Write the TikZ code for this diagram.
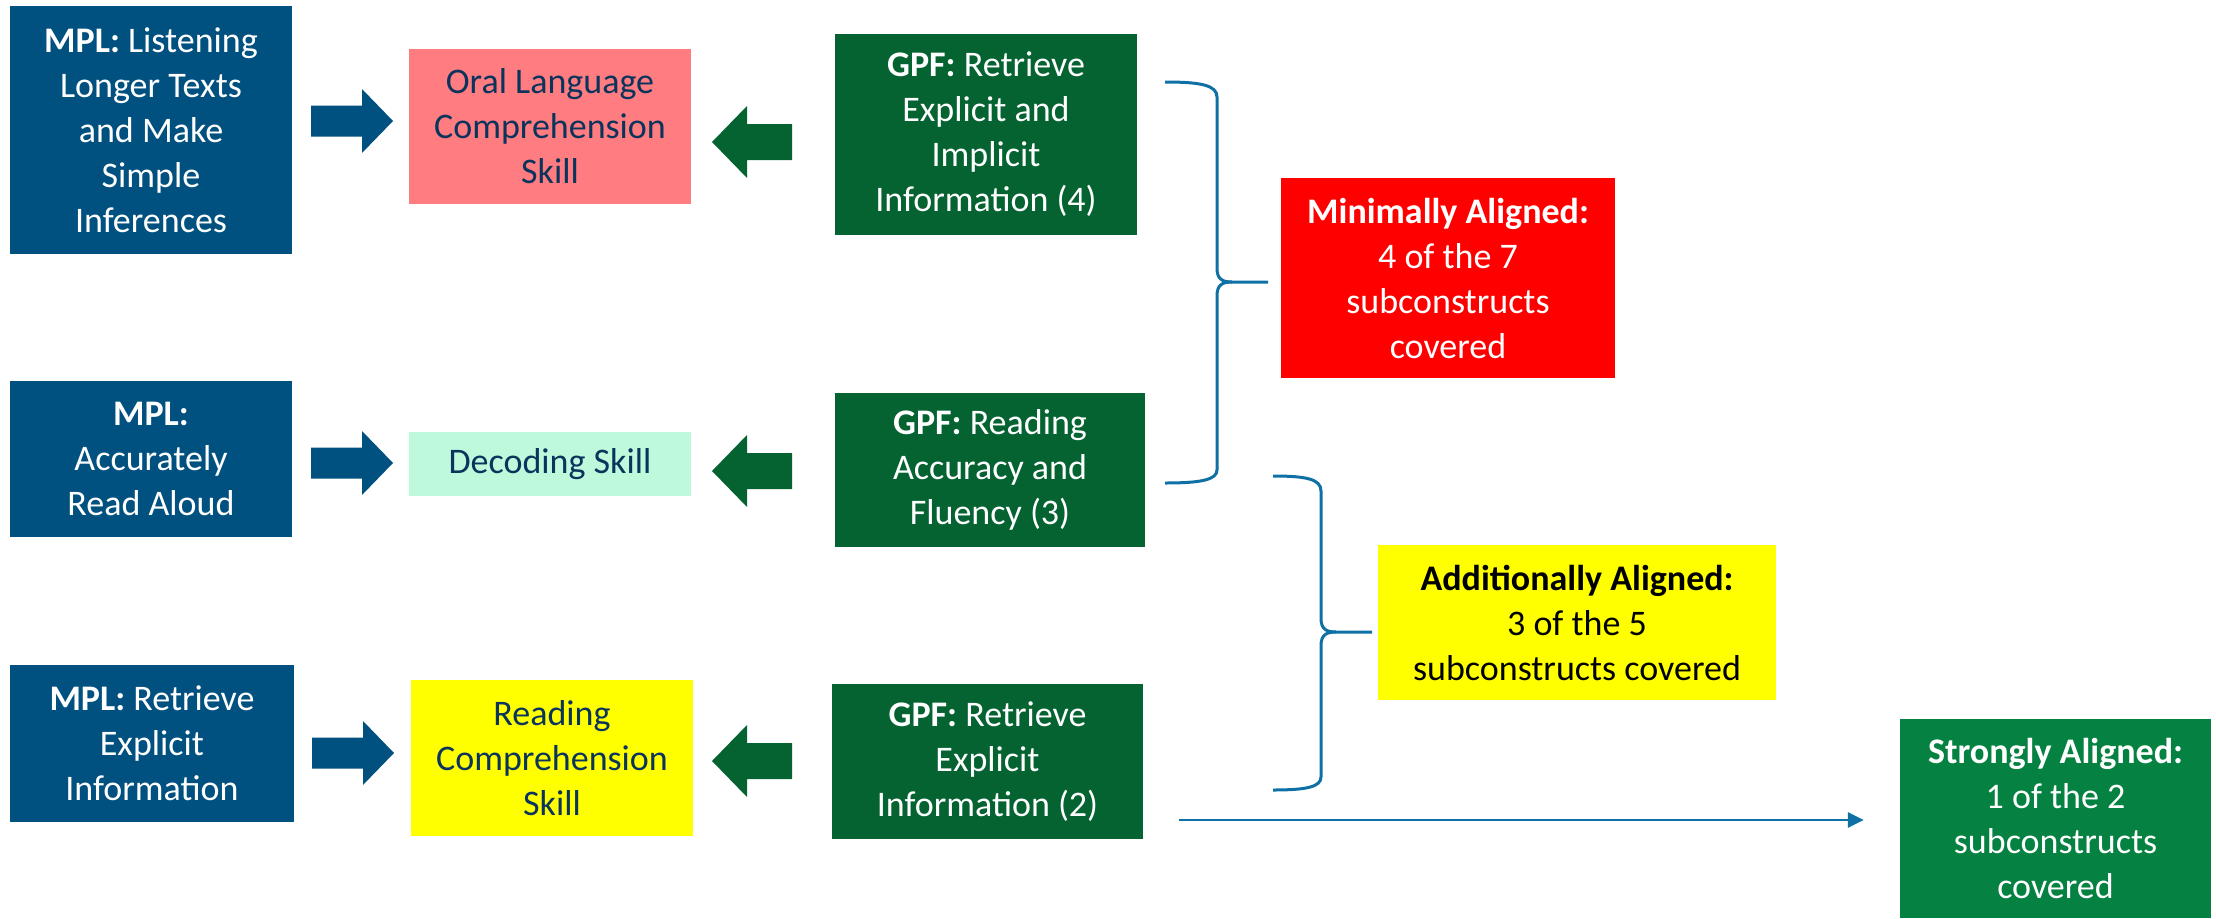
\documentclass[tikz,border=0pt]{standalone}
\usepackage{fontspec}
\setmainfont{Carlito}
\usetikzlibrary{arrows.meta}

\definecolor{mplblue}{RGB}{0,80,128}
\definecolor{gpfgreen}{RGB}{5,99,50}
\definecolor{oralpink}{RGB}{255,124,128}
\definecolor{decmint}{RGB}{190,249,219}
\definecolor{skillyellow}{RGB}{255,255,0}
\definecolor{skilltext}{RGB}{10,52,92}
\definecolor{minred}{RGB}{255,0,0}
\definecolor{strongreen}{RGB}{5,130,65}
\definecolor{bracketblue}{RGB}{14,112,164}

\tikzset{
  box/.style={rectangle, inner sep=0pt, align=center,
    font=\fontsize{36}{45}\selectfont},
  mplbox/.style={box, fill=mplblue, text=white},
  gpfbox/.style={box, fill=gpfgreen, text=white},
  skillbox/.style={box, text=skilltext},
  % block arrow pointing right, drawn about its centre
  rightblock/.pic={\fill[mplblue] (-41,-15.5) -- (10,-15.5) -- (10,-32)
    -- (41,0) -- (10,32) -- (10,15.5) -- (-41,15.5) -- cycle;},
  % block arrow pointing left, drawn about its centre
  leftblock/.pic={\fill[gpfgreen] (40,-18) -- (-5,-18) -- (-5,-36)
    -- (-40,0) -- (-5,36) -- (-5,18) -- (40,18) -- cycle;},
  bracket/.style={draw=bracketblue, line width=3pt, line join=round},
  link/.style={draw=bracketblue, line width=2.7pt,
    -{Triangle[length=16pt,width=15pt]}},
}

\begin{document}
\begin{tikzpicture}[x=1pt,y=-1pt]
\useasboundingbox (0,0) rectangle (2216,918);

% MPL column
\node[mplbox, minimum width=282pt, minimum height=248pt] (mpl1) at (151,130)
  {\textbf{MPL:} Listening\\Longer Texts\\and Make\\Simple\\Inferences};
\node[mplbox, minimum width=282pt, minimum height=156pt] (mpl2) at (151,459)
  {\textbf{MPL:}\\Accurately\\Read Aloud};
\node[mplbox, minimum width=284pt, minimum height=157pt] (mpl3) at (152,743.5)
  {\textbf{MPL:} Retrieve\\Explicit\\Information};

% skill column
\node[skillbox, fill=oralpink, minimum width=282pt, minimum height=155pt] (oral) at (550,126.5)
  {Oral Language\\Comprehension\\Skill};
\node[skillbox, fill=decmint, minimum width=282pt, minimum height=64pt] (decoding) at (550,464)
  {Decoding Skill};
\node[skillbox, fill=skillyellow, minimum width=282pt, minimum height=156pt] (reading) at (552,758)
  {Reading\\Comprehension\\Skill};

% GPF column
\node[gpfbox, minimum width=302pt, minimum height=201pt] (gpf1) at (986,134.5)
  {\textbf{GPF:} Retrieve\\Explicit and\\Implicit\\Information (4)};
\node[gpfbox, minimum width=310pt, minimum height=154pt] (gpf2) at (990,470)
  {\textbf{GPF:} Reading\\Accuracy and\\Fluency (3)};
\node[gpfbox, minimum width=311pt, minimum height=155pt] (gpf3) at (987.5,761.5)
  {\textbf{GPF:} Retrieve\\Explicit\\Information (2)};

% block arrows between the columns
\pic (ra1) at (352,121) {rightblock};
\pic (ra2) at (352,463) {rightblock};
\pic (ra3) at (353,753) {rightblock};
\pic (la1) at (752,142) {leftblock};
\pic (la2) at (752,471) {leftblock};
\pic (la3) at (752,761) {leftblock};

% alignment results
\node[box, fill=minred, text=white, minimum width=334pt, minimum height=200pt] (minimal) at (1448,278)
  {\textbf{Minimally Aligned:}\\4 of the 7\\subconstructs\\covered};
\node[box, fill=skillyellow, text=black, minimum width=398pt, minimum height=155pt] (additional) at (1577,622.5)
  {\textbf{Additionally Aligned:}\\3 of the 5\\subconstructs covered};
\node[box, fill=strongreen, text=white, minimum width=311pt, minimum height=199pt] (strong) at (2055.5,818.5)
  {\textbf{Strongly Aligned:}\\1 of the 2\\subconstructs\\covered};

% brace grouping GPF 1-2 into the minimal result
\coordinate (b1t) at (1165,82);
\coordinate (b1b) at (1165,483);
\coordinate (b1tip) at (1268,282);
\draw[bracket] (b1t) .. controls (1200,82) and (1217,85) .. (1217,97)
  -- (1217,268) .. controls (1217,279) and (1222,282) .. (1232,282)
  -- (b1tip);
\draw[bracket] (1232,282) .. controls (1222,282) and (1217,285) .. (1217,296)
  -- (1217,470) .. controls (1217,480) and (1200,483) .. (b1b);

% brace grouping GPF 2-3 into the additional result
\coordinate (b2t) at (1273,476);
\coordinate (b2b) at (1273,790);
\coordinate (b2tip) at (1372,632);
\draw[bracket] (b2t) .. controls (1306,476) and (1321,479) .. (1321,491)
  -- (1321,618) .. controls (1321,629) and (1326,632) .. (1336,632)
  -- (b2tip);
\draw[bracket] (1336,632) .. controls (1326,632) and (1321,635) .. (1321,646)
  -- (1321,777) .. controls (1321,787) and (1306,790) .. (b2b);

% GPF 3 leads on to the strong result
\coordinate (lstart) at (1179,820);
\draw[link, shorten >=36pt] (lstart) -- (strong.west |- lstart);
\end{tikzpicture}
\end{document}
